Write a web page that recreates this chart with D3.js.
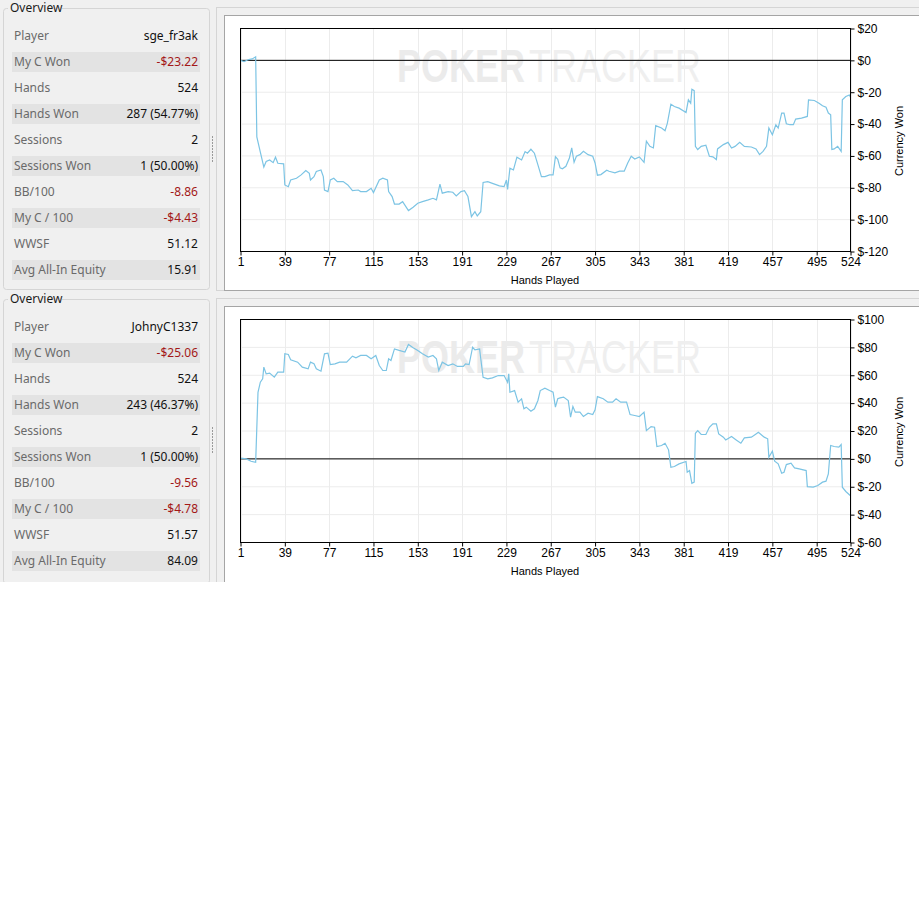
<!DOCTYPE html>
<html>
<head>
<meta charset="utf-8">
<script src="https://cdn.jsdelivr.net/npm/d3@7"></script>
<style>
  body { margin: 0; background: #fff; }
  svg text { font-family: "Liberation Sans", Arial, sans-serif; }
  .ov text { font-family: "Noto Sans", "Open Sans", sans-serif; font-size: 12px; }
</style>
</head>
<body>
<div id="chart"></div>
<script>
// tick labels
const xTicks = [1, 39, 77, 115, 153, 191, 229, 267, 305, 343, 381, 419, 457, 495, 524];
const topTicks = [20, 0, -20, -40, -60, -80, -100, -120];
const bottomTicks = [100, 80, 60, 40, 20, 0, -20, -40, -60];

// overview table
const statLabels = ["Player", "My C Won", "Hands", "Hands Won", "Sessions", "Sessions Won",
  "BB/100", "My C / 100", "WWSF", "Avg All-In Equity"];
const p1Stats = ["sge_fr3ak", "-$23.22", "524", "287 (54.77%)", "2", "1 (50.00%)",
  "-8.86", "-$4.43", "51.12", "15.91"];
const p2Stats = ["JohnyC1337", "-$25.06", "524", "243 (46.37%)", "2", "1 (50.00%)",
  "-9.56", "-$4.78", "51.57", "84.09"];

// sge_fr3ak: hand number / currency won
const p1Hands = [1, 4, 8, 11, 14, 15, 18, 21, 23, 26, 29, 31, 33, 38, 39, 42, 44, 49, 53, 57, 60, 61, 64, 66, 70, 72, 73, 76, 78, 81, 84, 89, 93, 97, 102, 104, 109, 113, 115, 120, 123, 127, 128, 131, 133, 137, 140, 145, 149, 153, 157, 162, 166, 169, 172, 174, 179, 183, 186, 190, 193, 196, 199, 202, 204, 207, 209, 213, 217, 223, 227, 229, 230, 232, 235, 238, 242, 245, 247, 250, 253, 256, 259, 262, 266, 269, 271, 273,
  275, 277, 280, 283, 285, 287, 289, 292, 295, 299, 303, 305, 307, 310, 315, 317, 322, 326, 330, 333, 336, 339, 343, 347, 349, 352, 355, 357, 362, 365, 367, 370, 373, 377, 383, 385, 387, 388, 390, 391, 393, 396, 400, 403, 406, 409, 410, 415, 419, 422, 425, 429, 433, 439, 443, 446, 449, 452, 454, 457, 460, 462, 465, 467, 469, 472, 475, 477, 482, 487, 488, 493, 497, 500, 503, 505, 507, 508, 510, 513, 516, 517, 520, 523, 524];
const p1Won = [0, -0.8, 0.5, 0.9, 2.2, -48, -57.6, -67, -63.5, -62.5, -64.2, -60.8, -64.6, -65, -78.2, -79.3, -75.1, -74, -71.9, -69.2, -70.9, -75.1, -73, -69.8, -68.8, -73, -81.4, -82.4, -75.1, -74, -76.1, -76.1, -78.2, -81.8, -81.4, -82.4, -82.4, -80.3, -83, -75.1, -74, -75.1, -82.4, -85.5, -90.2, -90.2, -88.7, -94.3, -92.2, -89.7, -88.7, -87.6, -86.6, -87.6, -77.7, -83.4, -82.4, -82.8, -85.1, -82.4, -81.8, -85.5, -98.1, -95, -97.7, -95, -76.7, -76.1, -77.2, -78.8, -79.3, -75.1, -81, -67.7, -68.8, -60.8, -62.5, -57.3, -58.3, -55.8, -58.3, -65.6, -73, -73, -71.9, -71.9, -60.4, -62.1,
  -67.5, -68.1, -66.5, -61.3, -55, -64, -60.2, -59.2, -57.1, -59.2, -60.2, -64.4, -72.1, -71.7, -69, -69.6, -70.6, -69.6, -69.6, -64.4, -60.2, -61.9, -60.6, -64, -50.8, -54, -55, -41, -42.5, -44.2, -39.4, -27.5, -29, -30, -32.7, -24.8, -26.9, -18.1, -19, -54, -56, -54, -53.3, -60.2, -60.6, -62.3, -55.6, -52.9, -51.5, -55, -54, -51.5, -54, -54.4, -55.6, -59.2, -57.1, -54, -42.5, -46.7, -40.4, -42.5, -33.1, -33.1, -39.8, -40.4, -40.4, -36.9, -36.3, -35.2, -24.8, -25.2, -26.9, -28.5, -29.4, -33.1, -34.2, -56, -55.6, -54, -57.1, -24.8, -22.7, -21.7, -23.2];

// JohnyC1337
const p2Hands = [1, 6, 10, 14, 16, 18, 20, 21, 23, 26, 30, 33, 38, 39, 42, 44, 50, 54, 59, 61, 64, 66, 70, 73, 76, 78, 82, 86, 92, 97, 100, 104, 109, 113, 117, 120, 123, 126, 128, 130, 133, 137, 142, 145, 149, 153, 157, 162, 166, 169, 171, 174, 179, 183, 187, 192, 194, 197, 200, 202, 206, 207, 209, 213, 217, 222, 227, 230, 231, 232, 236, 239, 242, 244, 246, 250, 253, 256, 258, 262, 266, 269, 271, 273,
  275, 278, 282, 284, 286, 288, 292, 295, 299, 303, 305, 307, 312, 316, 320, 323, 327, 332, 335, 339, 343, 347, 349, 353, 356, 358, 362, 365, 368, 370, 373, 377, 383, 384, 386, 388, 390, 391, 393, 396, 400, 403, 406, 409, 411, 415, 417, 422, 426, 430, 433, 439, 443, 445, 450, 453, 454, 457, 459, 462, 465, 467, 469, 473, 476, 480, 486, 487, 492, 496, 500, 503, 505, 507, 510, 514, 516, 517, 520, 524];
const p2Won = [0.5, 0, -1.7, -2.4, 47.8, 55, 57.4, 65.8, 61, 61.5, 58.6, 62.2, 62.2, 75.4, 74.9, 71.1, 69.4, 65.8, 64.6, 69.4, 68.2, 64.6, 62.9, 75.4, 75.8, 67.7, 68.2, 69.4, 69.4, 73.7, 72.5, 74.2, 74.2, 71.8, 74.2, 67, 63.4, 63.4, 71.8, 70.6, 78.9, 77.8, 76.6, 82.1, 79.7, 77.8, 75.4, 73, 74.2, 71.8, 63.4, 69.4, 67, 68.2, 66.3, 66.3, 68.2, 67.7, 80.1, 78.2, 78.9, 71.8, 58.6, 57.4, 58.1, 59.8, 59.8, 55, 61, 47.8, 49, 40.7, 43.1, 35.9, 37.1, 34.2, 35.9, 41.9, 49, 50.7, 49, 47.8, 37.1, 43.1,
  43.8, 44.3, 41.9, 29.9, 37.6, 33.5, 33.5, 30.4, 32.8, 31.8, 35.2, 44.7, 43.1, 40.7, 40.7, 43.1, 40.7, 40.7, 31.8, 31.1, 30.4, 33.5, 20.3, 23.2, 22.7, 8.9, 9.6, 11.2, 6.5, -6, -5.5, -3.6, -1.9, -9.6, -8.4, -17.5, -16.7, 18.4, 20.3, 17.5, 17.5, 22.7, 25.1, 25.1, 17.9, 15.6, 13.6, 16, 13.6, 11.2, 15.1, 15.6, 17.9, 19.1, 15.6, 14.4, 1.2, 5.5, -1.7, -3.6, -10.3, -9.6, -4.1, -3.1, -6.5, -7.2, -8.4, -19.9, -20.3, -19.1, -16.7, -16, -10.8, 9.6, 8.9, 8.4, 10.3, -20.3, -23.4, -26.5];

const width = 919, height = 906;

const svg = d3.select("#chart").append("svg")
    .attr("width", width)
    .attr("height", height);

// grey application background
svg.append("rect")
    .attr("x", 0).attr("y", 0)
    .attr("width", width).attr("height", 582)
    .attr("fill", "#f0f0f0");

// left "Overview" group box
function drawOverview(stats, oy, boxH) {
  const g = svg.append("g").attr("class", "ov");

  g.append("rect")
      .attr("x", 3.5).attr("y", oy + 8.5)
      .attr("width", 206).attr("height", boxH)
      .attr("rx", 3)
      .attr("fill", "#f0f0f0")
      .attr("stroke", "#d5d5d5");

  g.append("rect")
      .attr("x", 8).attr("y", oy + 1)
      .attr("width", 54).attr("height", 14)
      .attr("fill", "#f0f0f0");

  g.append("text")
      .attr("x", 10).attr("y", oy + 11.5)
      .attr("fill", "#1a1a1a")
      .text("Overview");

  const rows = g.selectAll(".row")
      .data(statLabels)
      .enter()
      .append("g")
      .attr("class", "row")
      .attr("transform", (d, i) => `translate(0,${oy + 36 + 26 * i})`);

  rows.filter((d, i) => i % 2 === 1)
      .append("rect")
      .attr("x", 12).attr("y", -10)
      .attr("width", 188).attr("height", 20)
      .attr("fill", "#e3e3e3");

  rows.append("text")
      .attr("x", 14).attr("y", 4)
      .attr("fill", "#6a6a6a")
      .text(d => d);

  rows.append("text")
      .attr("x", 198).attr("y", 4)
      .attr("text-anchor", "end")
      .attr("fill", (d, i) => stats[i].startsWith("-") ? "#a31818" : "#111")
      .text((d, i) => stats[i]);

  // splitter grip
  g.selectAll(".grip")
      .data(d3.range(9))
      .enter()
      .append("rect")
      .attr("x", 212).attr("y", d => oy + 136 + d * 3)
      .attr("width", 1).attr("height", 2)
      .attr("fill", "#9a9a9a");
}

function drawChart(hands, won, ticks, oy, boxH) {
  const top = oy + 28, bottom = oy + 251;

  svg.append("rect")
      .attr("x", 216.5).attr("y", oy + 7.5)
      .attr("width", 710).attr("height", boxH)
      .attr("fill", "#f0f0f0")
      .attr("stroke", "#d5d5d5");

  svg.append("rect")
      .attr("x", 224.5).attr("y", oy + 15.5)
      .attr("width", 700).attr("height", boxH - 8)
      .attr("fill", "#fff")
      .attr("stroke", "#a5a5a5");

  const x = d3.scaleLinear().domain([1, 524]).range([240.5, 850.5]);
  const y = d3.scaleLinear()
      .domain([d3.min(ticks), d3.max(ticks)])
      .range([bottom + 0.5, top + 0.5]);

  // grid
  svg.append("g")
      .selectAll("line")
      .data(xTicks)
      .enter()
      .append("line")
      .attr("x1", d => Math.round(x(d)) + 0.5).attr("x2", d => Math.round(x(d)) + 0.5)
      .attr("y1", top).attr("y2", bottom)
      .attr("stroke", "#ececec");

  svg.append("g")
      .selectAll("line")
      .data(ticks)
      .enter()
      .append("line")
      .attr("x1", 241).attr("x2", 851)
      .attr("y1", d => y(d)).attr("y2", d => y(d))
      .attr("stroke", "#ececec");

  // watermark (vertically stretched so the two words sit side by side)
  svg.append("text")
      .attr("transform", `translate(397,${oy + 82}) scale(1,1.27)`)
      .attr("fill", "#ebebeb")
      .attr("font-weight", "bold")
      .style("font-size", "36px")
      .text("POKER");
  svg.append("text")
      .attr("transform", `translate(529,${oy + 82}) scale(1,1.27)`)
      .attr("fill", "#efefef")
      .style("font-size", "36px")
      .text("TRACKER");

  // zero line
  svg.append("line")
      .attr("x1", 241).attr("x2", 851)
      .attr("y1", y(0)).attr("y2", y(0))
      .attr("stroke", "#000");

  // currency won line
  const line = d3.line()
      .x((d, i) => x(hands[i]))
      .y(d => y(d));

  svg.append("path")
      .datum(won)
      .attr("fill", "none")
      .attr("stroke", "#7cc4e4")
      .attr("stroke-width", 1.2)
      .attr("d", line);

  // frame
  svg.append("rect")
      .attr("x", 240.5).attr("y", top + 0.5)
      .attr("width", 610).attr("height", bottom - top)
      .attr("fill", "none")
      .attr("stroke", "#000");

  // axes
  const yAxis = svg.append("g")
      .attr("transform", "translate(850.5,0)")
      .call(d3.axisRight(y).tickValues(ticks).tickSize(4).tickPadding(3)
        .tickFormat(d => "$" + d));
  yAxis.select(".domain").remove();
  yAxis.selectAll("text").style("font-size", "12px").attr("fill", "#000");

  const xAxis = svg.append("g")
      .attr("transform", `translate(0,${bottom + 0.5})`)
      .call(d3.axisBottom(x).tickValues(xTicks).tickSize(4).tickPadding(2));
  xAxis.select(".domain").remove();
  xAxis.selectAll("text").style("font-size", "12px").attr("fill", "#000");

  svg.append("text")
      .attr("x", 545).attr("y", oy + 284)
      .attr("text-anchor", "middle")
      .style("font-size", "11px")
      .text("Hands Played");

  svg.append("text")
      .attr("transform", `translate(903,${oy + 141}) rotate(-90)`)
      .attr("text-anchor", "middle")
      .style("font-size", "11px")
      .text("Currency Won");
}

drawOverview(p1Stats, 0, 281);
drawChart(p1Hands, p1Won, topTicks, 0, 283);
drawOverview(p2Stats, 291, 284);
drawChart(p2Hands, p2Won, bottomTicks, 291, 285);

// everything below the window area is white
svg.append("rect")
    .attr("x", 0).attr("y", 582)
    .attr("width", width).attr("height", height - 582)
    .attr("fill", "#fff");
</script>
</body>
</html>
